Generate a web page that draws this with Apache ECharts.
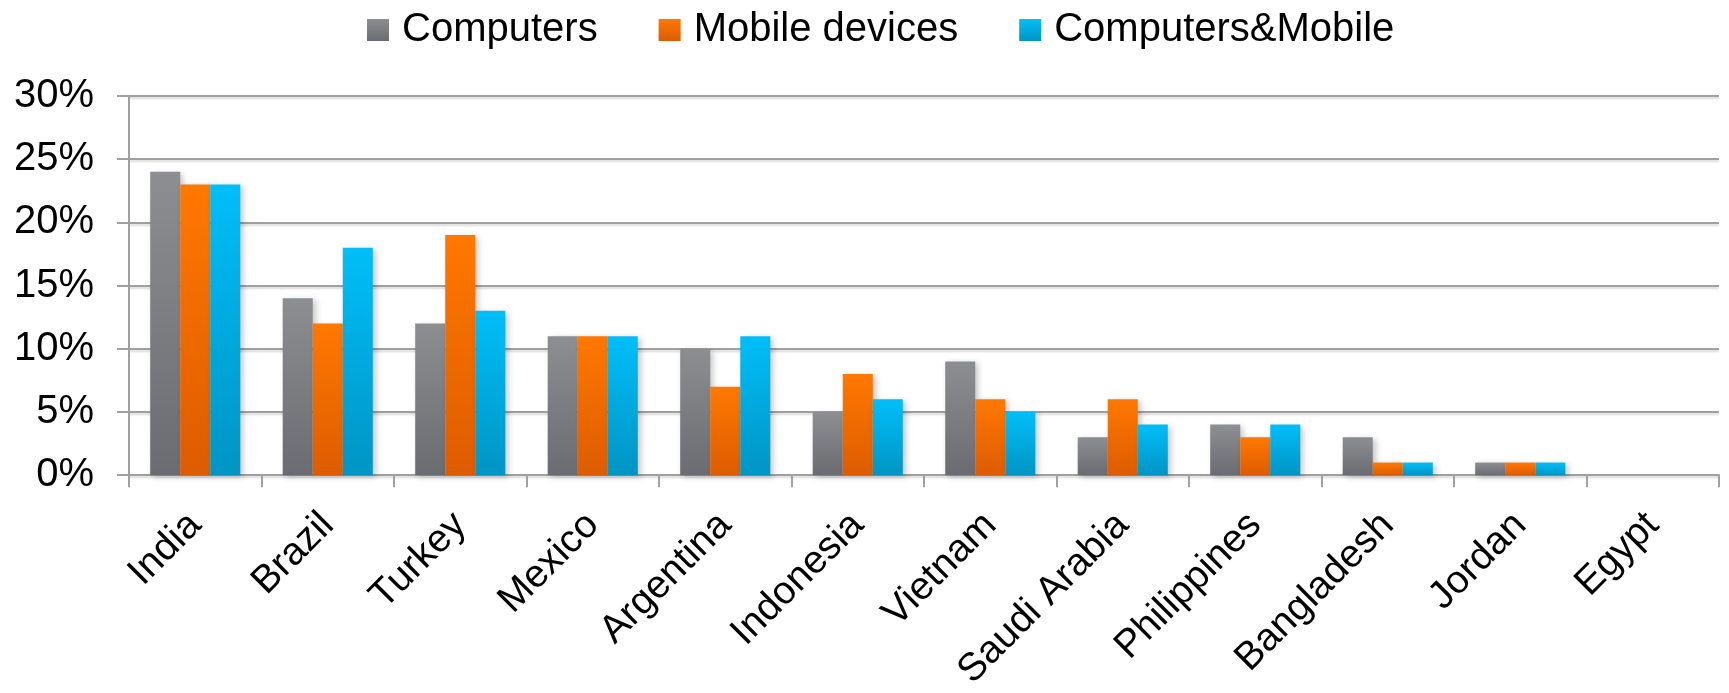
<!DOCTYPE html>
<html>
<head>
<meta charset="utf-8">
<script src="https://cdn.jsdelivr.net/npm/echarts@6/dist/echarts.min.js"></script>
<style>
  html, body { margin: 0; padding: 0; background: #fff; }
  #main { width: 1729px; height: 693px; }
</style>
</head>
<body>
<div id="main"></div>
<script>
// data (percent)
var countries = ['India', 'Brazil', 'Turkey', 'Mexico', 'Argentina', 'Indonesia', 'Vietnam',
  'Saudi Arabia', 'Philippines', 'Bangladesh', 'Jordan', 'Egypt'];
var computers = [24, 14, 12, 11, 10, 5, 9, 3, 4, 3, 1, 0];
var mobile = [23, 12, 19, 11, 7, 8, 6, 6, 3, 1, 1, 0];
var both = [23, 18, 13, 11, 11, 6, 5, 4, 4, 1, 1, 0];
var seriesNames = ['Computers', 'Mobile devices', 'Computers&Mobile'];

function grad(top, bottom) {
    return new echarts.graphic.LinearGradient(0, 0, 0, 1, [
        { offset: 0, color: top },
        { offset: 1, color: bottom }
    ]);
}

var colors = [
    grad('#8d8e92', '#6b6c71'),
    grad('#ff7800', '#dd5c00'),
    grad('#00bef8', '#0095c4')
];

function barSeries(name, data, color) {
    return {
        name: name,
        type: 'bar',
        data: data,
        barGap: 0,
        barCategoryGap: '32%',
        itemStyle: {
            color: color,
            shadowBlur: 6,
            shadowOffsetX: 3,
            shadowOffsetY: 2,
            shadowColor: 'rgba(0,0,0,0.22)'
        }
    };
}

var chart = echarts.init(document.getElementById('main'));
var option = {
    animation: false,
    textStyle: { fontFamily: 'Liberation Sans', color: '#000' },
    legend: {
        data: seriesNames,
        left: 367,
        top: 10,
        padding: 0,
        itemWidth: 22,
        itemHeight: 22,
        itemGap: 61,
        icon: 'rect',
        textStyle: { fontSize: 40, color: '#000', fontFamily: 'Liberation Sans', padding: [0, 0, 0, 8] }
    },
    grid: {
        left: 129,
        right: 10,
        top: 96,
        bottom: 216
    },
    xAxis: {
        type: 'category',
        data: countries,
        axisLine: { lineStyle: { color: '#a0a0a0', width: 2 } },
        axisTick: { show: true, length: 12, lineStyle: { color: '#a0a0a0', width: 2 } },
        axisLabel: {
            rotate: 45,
            margin: 44,
            interval: 0,
            fontSize: 39,
            color: '#000',
            fontFamily: 'Liberation Sans'
        }
    },
    yAxis: {
        type: 'value',
        min: 0,
        max: 30,
        interval: 5,
        axisLine: { show: true, lineStyle: { color: '#a0a0a0', width: 2 } },
        axisTick: { show: true, length: 12, lineStyle: { color: '#a0a0a0', width: 2 } },
        axisLabel: {
            formatter: '{value}%',
            margin: 35,
            fontSize: 40,
            color: '#000',
            fontFamily: 'Liberation Sans'
        },
        splitLine: {
            lineStyle: {
                color: '#a0a0a0',
                width: 2,
                shadowColor: 'rgba(0,0,0,0.15)',
                shadowBlur: 2,
                shadowOffsetY: 2
            }
        }
    },
    series: [
        barSeries(seriesNames[0], computers, colors[0]),
        barSeries(seriesNames[1], mobile, colors[1]),
        barSeries(seriesNames[2], both, colors[2])
    ]
};
chart.setOption(option);
</script>
</body>
</html>
